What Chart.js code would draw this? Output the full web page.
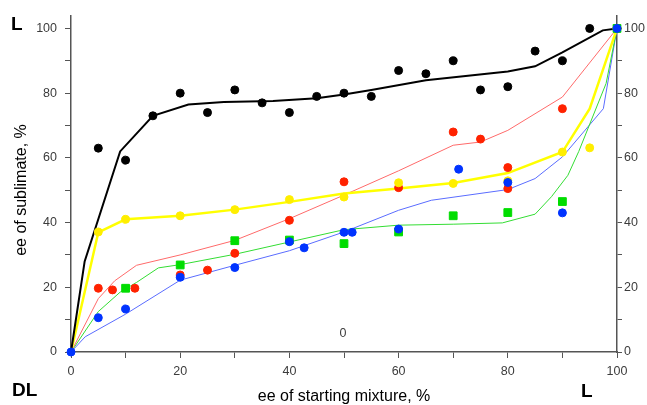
<!DOCTYPE html>
<html>
<head>
<meta charset="utf-8">
<script src="https://cdn.jsdelivr.net/npm/chart.js@4/dist/chart.umd.min.js"></script>
<style>
  html, body { margin: 0; padding: 0; background: #fff; }
  #wrap { width: 647px; height: 405px; }
</style>
</head>
<body>
<div id="wrap"><canvas id="c" width="647" height="405"></canvas></div>
<script>
// ticks
const xTicks = [0, 20, 40, 60, 80, 100];
const yTicks = [0, 20, 40, 60, 80, 100];

// points (x = ee of starting mixture, y = ee of sublimate)
const blackX = [5, 10, 15, 20, 25, 30, 35, 40, 45, 50, 55, 60, 65, 70, 75, 80, 85, 90, 95, 100];
const blackY = [63, 59.3, 73, 80, 74, 81, 77, 74, 79, 80, 79, 87, 86, 90, 81, 82, 93, 90, 100, 100];
const redX = [5, 7.6, 11.7, 20, 25, 30, 40, 50, 60, 70, 75, 80, 80, 90, 100];
const redY = [19.7, 19.2, 19.7, 23.8, 25.3, 30.5, 40.7, 52.6, 50.8, 68, 65.8, 57, 50.5, 75.2, 100];
const yellowX = [5, 10, 20, 30, 40, 50, 60, 70, 80, 90, 95, 100];
const yellowY = [37.1, 41, 42.1, 44, 47.1, 47.9, 52.3, 52.1, 52.9, 61.8, 63.1, 100];
const greenX = [10, 20, 30, 40, 50, 60, 70, 80, 90, 100];
const greenY = [19.7, 26.9, 34.4, 34.6, 33.5, 37.1, 42.1, 43.1, 46.5, 100];
const blueX = [0, 5, 10, 20, 30, 40, 42.7, 50, 51.5, 60, 71, 80, 90, 100];
const blueY = [0, 10.6, 13.3, 23.1, 26.1, 34.1, 32.2, 37, 37, 38, 56.5, 52.4, 43, 100];

// fitted curves
const blackLineX = [0, 2.5, 9, 15, 21.5, 28, 37, 45, 50, 55, 65, 80, 85, 90, 97.4, 100];
const blackLineY = [0, 28, 62, 73, 76.5, 77.3, 77.6, 78.4, 79.6, 81, 84, 86.7, 88.3, 92.6, 99.4, 100];
const redLineX = [0, 5, 8, 12, 20, 30, 40, 50, 60, 70, 75, 80, 90, 100];
const redLineY = [0, 16.5, 22, 26.8, 30, 34.5, 41.2, 48.5, 56, 63.9, 64.9, 68.5, 78.8, 100];
const yellowLineX = [0, 5, 10, 20, 30, 40, 50, 60, 70, 80, 90, 95, 100];
const yellowLineY = [0, 37, 41, 42.1, 44, 46.4, 49, 50.5, 52.2, 55.3, 61.8, 75.2, 100];
const greenLineX = [0, 5, 9, 12, 16, 20, 30, 40, 50, 60, 70, 79, 85, 88, 91, 93, 98, 100];
const greenLineY = [0, 12.5, 18.5, 21.5, 26, 27, 30.2, 34, 37.8, 39.2, 39.5, 39.9, 42.6, 48, 54.6, 62, 83, 100];
const blueLineX = [0, 2.6, 10, 20, 30, 40, 50, 60, 66, 80, 85, 90, 97.5, 100];
const blueLineY = [0, 4.7, 11.7, 22.2, 26.8, 31.3, 37.1, 43.8, 46.9, 50.2, 53.6, 60.3, 75.2, 100];

const pts = (xs, ys) => xs.map((x, i) => ({ x: x, y: ys[i] }));

function lineSet(xs, ys, color, width) {
  return { data: pts(xs, ys), showLine: true, borderColor: color, borderWidth: width,
           pointRadius: 0, fill: false, tension: 0, order: 2 };
}
function pointSet(xs, ys, color, style, r) {
  return { data: pts(xs, ys), showLine: false, backgroundColor: color, borderColor: color,
           borderWidth: 1, pointStyle: style, pointRadius: r, order: 1 };
}

const tickColor = '#3c3c3c';
const axisColor = '#555';
const fontFam = '"Liberation Sans", Arial, sans-serif';

// textes libres : titres d'axes, L / DL, petit "0"
const textPlugin = {
  id: 'texts',
  afterDraw(chart) {
    const ctx = chart.ctx;
    const xs = chart.scales.x, ys = chart.scales.y;
    ctx.save();
    ctx.fillStyle = '#000';
    ctx.font = '16px ' + fontFam;
    ctx.textAlign = 'center';
    ctx.textBaseline = 'middle';
    ctx.fillText('ee of starting mixture, %', (xs.left + xs.right) / 2, 397);
    ctx.translate(22, 190);
    ctx.rotate(-Math.PI / 2);
    ctx.fillText('ee of sublimate, %', 0, 0);
    ctx.restore();

    ctx.save();
    ctx.fillStyle = '#000';
    ctx.font = 'bold 19px ' + fontFam;
    ctx.textBaseline = 'middle';
    ctx.textAlign = 'left';
    ctx.fillText('L', 11, 25);
    ctx.fillText('DL', 12, 391);
    ctx.fillText('L', 581, 392);
    ctx.fillStyle = tickColor;
    ctx.font = '12.5px ' + fontFam;
    ctx.textAlign = 'center';
    ctx.fillText('0', xs.getPixelForValue(49.8), ys.getPixelForValue(5.6));
    ctx.restore();
  }
};

const minorTicks = s => { s.ticks = [0,10,20,30,40,50,60,70,80,90,100].map(v => ({ value: v })); };

// à ordre égal, le premier jeu est dessiné au-dessus
new Chart(document.getElementById('c').getContext('2d'), {
  type: 'scatter',
  data: {
    datasets: [
      lineSet(blackLineX, blackLineY, '#000000', 2),
      lineSet(yellowLineX, yellowLineY, '#ffff00', 2.5),
      lineSet(redLineX, redLineY, '#ff6a6a', 1),
      lineSet(greenLineX, greenLineY, '#33dd33', 1),
      lineSet(blueLineX, blueLineY, '#5a6cff', 1),
      pointSet(blueX, blueY, '#0033ff', 'circle', 4),
      pointSet(greenX, greenY, '#00dd00', 'rect', 5.5),
      pointSet(yellowX, yellowY, '#ffee00', 'circle', 4),
      pointSet(redX, redY, '#ff2200', 'circle', 4),
      pointSet(blackX, blackY, '#000000', 'circle', 4)
    ]
  },
  options: {
    responsive: false,
    animation: false,
    clip: false,
    layout: { padding: { top: 14, right: 0, bottom: 0, left: 0 } },
    plugins: { legend: { display: false }, tooltip: { enabled: false } },
    scales: {
      x: {
        type: 'linear', min: 0, max: 100,
        afterBuildTicks: minorTicks,
        afterFit: s => { s.height = 53; },
        grid: { drawOnChartArea: false, tickLength: 6, color: axisColor, tickWidth: 1 },
        border: { color: axisColor, width: 1.5 },
        ticks: { color: tickColor, padding: 6, maxRotation: 0, autoSkip: false,
                 font: { size: 12.5, family: fontFam },
                 callback: v => xTicks.includes(v) ? v : '' }
      },
      y: {
        type: 'linear', position: 'left', min: 0, max: 104,
        afterBuildTicks: minorTicks,
        afterFit: s => { s.width = 71; },
        grid: { drawOnChartArea: false, tickLength: 6, color: axisColor, tickWidth: 1 },
        border: { color: axisColor, width: 1.5 },
        ticks: { color: tickColor, padding: 8, autoSkip: false,
                 font: { size: 12.5, family: fontFam },
                 callback: v => yTicks.includes(v) ? v : '' }
      },
      y2: {
        type: 'linear', position: 'right', min: 0, max: 104,
        afterBuildTicks: minorTicks,
        afterFit: s => { s.width = 30; },
        grid: { drawOnChartArea: false, tickLength: 5, color: axisColor, tickWidth: 1 },
        border: { color: axisColor, width: 1.5 },
        ticks: { color: tickColor, padding: 2, autoSkip: false,
                 font: { size: 12.5, family: fontFam },
                 callback: v => yTicks.includes(v) ? v : '' }
      }
    }
  },
  plugins: [textPlugin]
});
</script>
</body>
</html>
